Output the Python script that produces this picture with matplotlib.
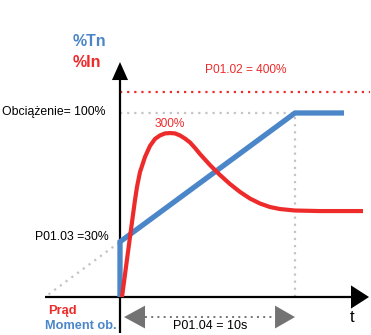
import matplotlib
matplotlib.use("Agg")
import numpy as np
import matplotlib.pyplot as plt
from matplotlib.patches import Polygon

# ---------------------------------------------------------------------
# data (schematic: time in s, level in % of rated torque)
T_RAMP = 10.0          # P01.04 = 10 s
START_PCT = 30.0       # P01.03 = 30 %
LOAD_PCT = 100.0       # load = 100 %
LIMIT_LEVEL = 111.4    # drawn height of the P01.02 = 400 % limit line

torque_t = [0.0, 0.0, T_RAMP, 12.8]
torque_v = [0.0, START_PCT, LOAD_PCT, LOAD_PCT]

current_t = [0.114, 0.571, 0.857, 0.971, 1.143, 1.429, 1.714, 2.0, 2.286,
             2.571, 2.857, 3.143, 3.429, 3.714, 4.0, 4.286, 4.571, 5.143,
             5.714, 6.286, 6.857, 7.429, 8.0, 8.571, 9.143, 10.0, 11.43, 13.886]
current_v = [0.0, 32.6, 52.7, 59.8, 67.9, 76.1, 82.1, 85.9, 87.8,
             88.9, 89.1, 88.9, 87.8, 86.1, 84.0, 81.0, 77.7, 71.7,
             66.3, 61.4, 57.1, 53.5, 50.8, 48.9, 47.8, 47.0, 46.7, 46.7]

BLUE = "#4a86c8"
RED = "#ee2b2b"
GREY = "#c4c4c4"
DARK = "#737373"

plt.rcParams["font.family"] = ["Liberation Sans", "DejaVu Sans"]

fig = plt.figure(figsize=(3.71, 3.35), dpi=100)
ax = fig.add_axes([0, 0, 1, 1])
ax.set_xlim(-6.857, 14.343)
ax.set_ylim(-20.65, 161.4)
ax.axis("off")

# guide lines
dots = (0, (1, 2.2))
ax.plot([0, 14.3], [LIMIT_LEVEL, LIMIT_LEVEL], color=RED, ls=dots, lw=1.6)
ax.plot([0, T_RAMP], [LOAD_PCT, LOAD_PCT], color=GREY, ls=dots, lw=1.6)
ax.plot([T_RAMP, T_RAMP], [0, LOAD_PCT], color=GREY, ls=dots, lw=1.6)
slope = (LOAD_PCT - START_PCT) / T_RAMP
ax.plot([-START_PCT / slope + 0.2, 0], [1.4, START_PCT], color=GREY, ls=dots, lw=1.6)

# axes with arrow heads
ax.plot([0, 0], [-19.6, 118], color="black", lw=1.6, solid_capstyle="butt")
ax.add_patch(Polygon([[-0.46, 117.9], [0.46, 117.9], [0, 127.7]],
                     closed=True, color="black", lw=0))
ax.plot([-4.29, 13.2], [0, 0], color="black", lw=1.6, solid_capstyle="butt")
ax.add_patch(Polygon([[13.2, -6.3], [13.2, 6.3], [14.23, 0]],
                     closed=True, color="black", lw=0))

# curves
ax.plot(torque_t, torque_v, color=BLUE, lw=3.8, solid_joinstyle="miter",
        solid_capstyle="butt")
ax.plot(current_t, current_v, color=RED, lw=3.0, solid_capstyle="butt",
        solid_joinstyle="round")

# P01.04 double arrow
ya = -10.9
ax.plot([1.43, 8.86], [ya, ya], color=DARK, ls=dots, lw=1.4)
ax.add_patch(Polygon([[1.43, ya - 6.2], [1.43, ya + 6.2], [0.23, ya]],
                     closed=True, color=DARK, lw=0))
ax.add_patch(Polygon([[8.86, ya - 6.2], [8.86, ya + 6.2], [T_RAMP, ya]],
                     closed=True, color=DARK, lw=0))

# labels
ax.text(-2.69, 138.6, "%Tn", color=BLUE, fontsize=11.5, fontweight="bold",
        ha="left", va="center")
ax.text(-2.69, 127.7, "%In", color=RED, fontsize=11.5, fontweight="bold",
        ha="left", va="center")
ax.text(7.2, 123.4, "P01.02 = 400%", color=RED, fontsize=8.6, ha="center", va="center")
ax.text(-0.8, 100.5, "Obciążenie= 100%", color="black", fontsize=8.8,
        ha="right", va="center")
ax.text(2.86, 94.0, "300%", color=RED, fontsize=8.6, ha="center", va="center")
ax.text(-0.63, 32.6, "P01.03 =30%", color="black", fontsize=8.8,
        ha="right", va="center")
ax.text(-4.11, -7.6, "Prąd", color=RED, fontsize=9.3, fontweight="bold",
        ha="left", va="center")
ax.text(-4.29, -15.8, "Moment ob.", color=BLUE, fontsize=9.2, fontweight="bold",
        ha="left", va="center")
ax.text(5.14, -15.8, "P01.04 = 10s", color="black", fontsize=9,
        ha="center", va="center")
ax.text(13.26, -11.4, "t", color="black", fontsize=12, ha="center", va="center")

fig.savefig("out.png", dpi=100)
